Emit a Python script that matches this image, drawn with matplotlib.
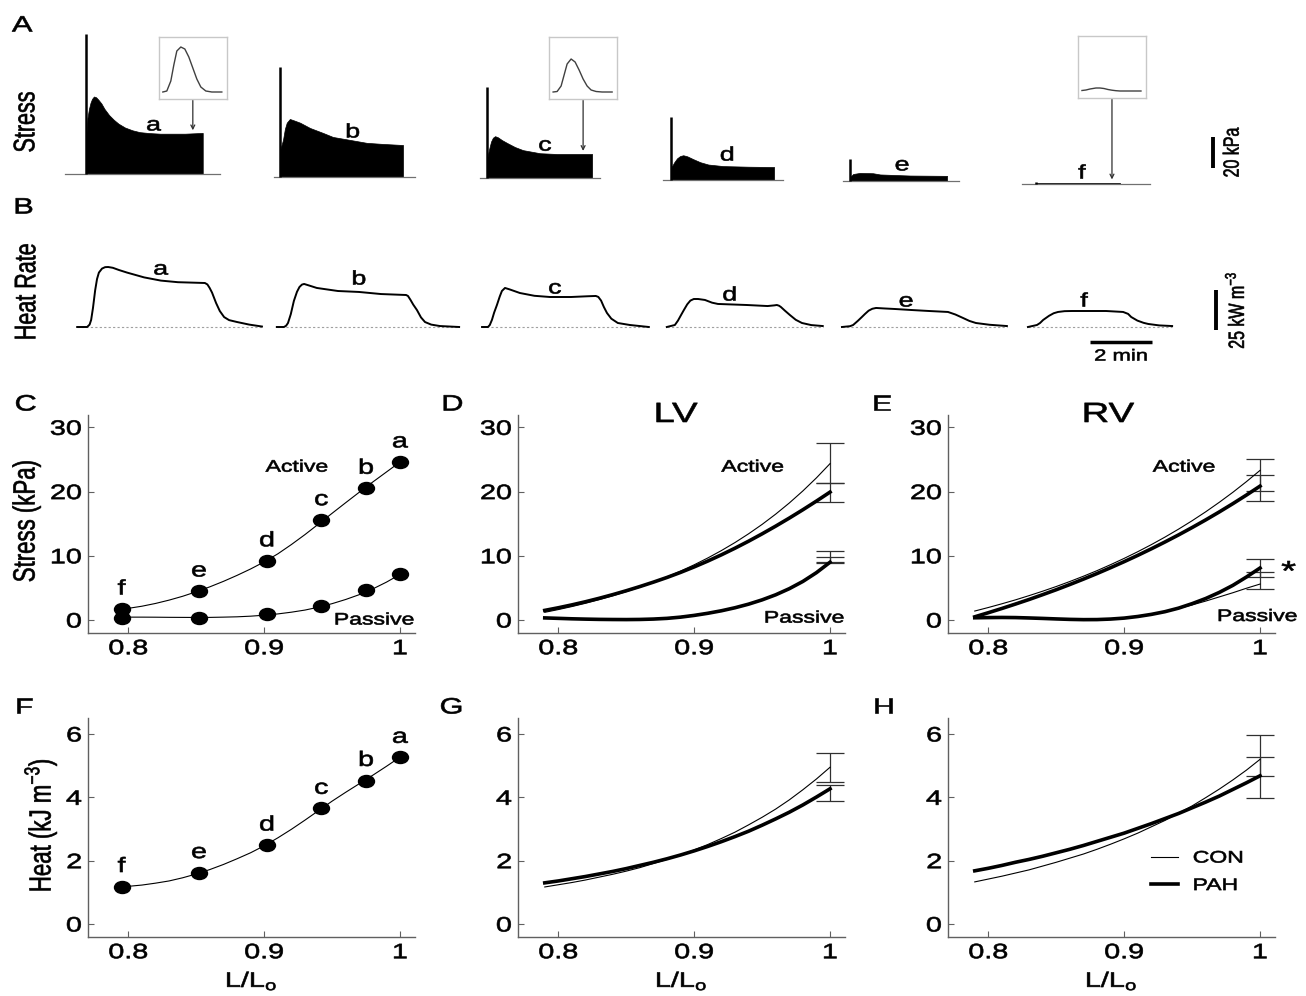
import numpy as np
import matplotlib
matplotlib.use('Agg')
import matplotlib.pyplot as plt
from matplotlib.patheffects import AbstractPathEffect
from matplotlib.transforms import Affine2D
from matplotlib.path import Path

plt.rcParams['font.family'] = ['Liberation Sans', 'DejaVu Sans']
plt.rcParams['mathtext.fontset'] = 'custom'
plt.rcParams['mathtext.rm'] = 'Liberation Sans'
plt.rcParams['mathtext.it'] = 'Liberation Sans:italic'
plt.rcParams['mathtext.bf'] = 'Liberation Sans:bold'

# ---------------------------------------------------------------- data
trace_names = ['a', 'b', 'c', 'd', 'e', 'f']

# A: stress traces (time from stimulation onset, min ; stress, kPa)
stress_t_a = [0.0, 0.05, 0.10, 0.15, 0.20, 0.26, 0.33, 0.40, 0.50, 0.60, 0.75, 0.90, 1.05, 1.26, 1.50, 1.74, 2.05, 2.40, 3.20, 3.77]
stress_a = [20, 36, 42, 46, 48.5, 50, 49.5, 48, 45.5, 42, 38, 35, 32.5, 30, 28.2, 27, 26.4, 26, 26, 26.5]
stress_t_b = [0.0, 0.10, 0.16, 0.22, 0.32, 0.45, 0.65, 0.97, 1.39, 1.71, 2.26, 2.80, 3.32, 3.97]
stress_b = [17, 24, 31, 35, 37.4, 36.5, 35, 31.6, 28.4, 25.8, 23.9, 22, 21.3, 20.6]
stress_t_c = [0.0, 0.06, 0.13, 0.19, 0.26, 0.35, 0.48, 0.65, 0.90, 1.16, 1.71, 2.26, 3.39]
stress_c = [12, 18, 23.5, 26, 27, 26.3, 24.5, 22.6, 20, 18, 16, 15.5, 15.5]
stress_t_d = [0.0, 0.10, 0.19, 0.29, 0.39, 0.52, 0.71, 0.94, 1.20, 1.68, 2.50, 3.32]
stress_d = [8, 11.5, 14, 15.5, 16, 15.3, 13.5, 11.5, 10, 9, 8.6, 8.4]
stress_t_e = [0.0, 0.10, 0.32, 0.74, 0.97, 1.94, 3.13]
stress_e = [2.5, 4.5, 5.2, 5.0, 4.2, 3.5, 3.3]
stress_t_f = [0.0, 2.71]
stress_f = [1.0, 1.0]
spike_kpa = [90, 71, 59, 40.6, 14, 1.5]

# A insets: single twitch (ms ; relative stress)
twitch_ms = [0, 40, 80, 110, 140, 180, 220, 260, 300, 340, 380, 430, 490, 590]
twitch_a = [0, 1, 11, 27, 41, 45, 43, 35, 24, 13, 5, 1, 0, 0]
twitch_c = [0, 0.5, 6, 17, 28, 33, 30, 22, 13, 6, 2, 0.5, 0, 0]
twitch_f = [0.5, 1, 2, 2.5, 3, 3, 2.5, 1.5, 0.8, 0.3, 0, 0, 0, 0]

# B: heat-rate traces (min ; kW m-3)
heat_t_a = [-0.35, -0.03, 0.05, 0.10, 0.16, 0.23, 0.29, 0.35, 0.45, 0.55, 0.65, 0.80, 1.00, 1.26, 1.81, 2.35, 2.90, 3.77,
            3.85, 3.92, 4.00, 4.13, 4.25, 4.39, 4.55, 4.81, 5.20, 5.61]
heat_a = [0, 0, 1.5, 4.4, 12, 23, 30, 34, 36.5, 37.4, 37.5, 37, 35.6, 34, 31, 29, 28, 27.5,
          26.6, 24.5, 21.5, 15, 10, 6.2, 4.3, 3.1, 1.5, 0.3]
heat_t_b = [-0.23, 0.0, 0.07, 0.13, 0.22, 0.32, 0.42, 0.50, 0.58, 0.65, 0.80, 1.06, 1.74, 2.42, 3.13, 3.94, 4.00,
            4.08, 4.17, 4.29, 4.42, 4.55, 4.75, 5.03, 5.65]
heat_b = [0, 0, 0.8, 2.5, 8, 16.3, 22, 25, 26.5, 26.9, 26, 24.4, 22.5, 21.9, 20.6, 20, 19.4,
          17, 14, 10.6, 6, 3.1, 1.5, 0.6, 0]
heat_t_c = [-0.19, 0.0, 0.06, 0.13, 0.20, 0.29, 0.38, 0.45, 0.55, 0.70, 1.03, 1.50, 2.00, 2.68, 3.20, 3.48, 3.56,
            3.65, 3.74, 3.84, 3.98, 4.19, 4.58, 5.19]
heat_c = [0, 0, 1.25, 4.5, 9, 13.75, 19, 22.5, 24.4, 23.5, 21.25, 19.5, 18.75, 18.75, 19.2, 19.4, 18.8,
          16.5, 12.5, 8.75, 5.2, 2.5, 1.25, 0]
heat_t_d = [-0.26, 0.0, 0.10, 0.20, 0.29, 0.40, 0.50, 0.61, 0.75, 0.97, 1.20, 1.39, 2.32, 2.99, 3.20, 3.29, 3.36,
            3.42, 3.55, 3.71, 3.90, 4.10, 4.40, 4.77]
heat_d = [0, 1.25, 4, 7.5, 10.6, 14.2, 16.5, 17.5, 17.5, 16.9, 15.2, 14.4, 13.75, 13.1, 13.5, 13.75, 13.3,
          12.5, 10.2, 7.5, 4.5, 2.5, 1.2, 0.6]
heat_t_e = [-0.26, 0.0, 0.10, 0.25, 0.38, 0.48, 0.60, 0.72, 0.84, 1.10, 1.45, 2.00, 2.55, 3.16, 3.40, 3.65, 3.85,
            4.06, 4.50, 5.06]
heat_e = [0, 0.5, 1.25, 3.8, 6.2, 8.1, 10.2, 11.4, 11.9, 11.6, 11.25, 10.6, 10, 9.4, 7.8, 5.6, 3.8,
          2.5, 1.4, 0.6]
heat_t_f = [-0.23, 0.06, 0.16, 0.26, 0.45, 0.60, 0.74, 0.95, 1.19, 2.29, 2.84, 3.00, 3.10, 3.30, 3.50, 3.65, 4.00, 4.42]
heat_f = [0, 1.25, 2.5, 4.4, 7, 8.6, 9.4, 9.9, 10, 10, 9.4, 8.2, 6.25, 4, 2.6, 1.9, 1, 0.6]

stress_scale_kpa = 20
heat_scale = 25
time_scale_min = 2

# C / F: example preparation
point_L = [0.795, 0.852, 0.902, 0.942, 0.975, 1.0]
point_names = ['f', 'e', 'd', 'c', 'b', 'a']
C_active = [1.7, 4.5, 9.2, 15.6, 20.5, 24.6]
C_passive = [0.26, 0.36, 1.0, 2.2, 4.7, 7.2]
F_heat = [1.18, 1.62, 2.49, 3.65, 4.53, 5.26]

fit_L = [0.795, 0.80, 0.81, 0.82, 0.83, 0.84, 0.85, 0.86, 0.87, 0.88, 0.89,
         0.90, 0.91, 0.92, 0.93, 0.94, 0.95, 0.96, 0.97, 0.98, 0.99, 1.00]
C_active_fit = [1.70, 1.82, 2.15, 2.58, 3.10, 3.70, 4.40, 5.17, 6.02, 6.95, 7.95,
                9.05, 10.30, 11.75, 13.30, 14.95, 16.62, 18.27, 19.90, 21.50, 23.05, 24.60]
C_passive_fit = [0.45, 0.45, 0.45, 0.44, 0.42, 0.41, 0.40, 0.41, 0.45, 0.50, 0.60,
                 0.75, 0.95, 1.22, 1.55, 2.00, 2.55, 3.20, 3.95, 4.85, 5.90, 7.10]
F_heat_fit = [1.18, 1.19, 1.23, 1.29, 1.36, 1.46, 1.58, 1.72, 1.88, 2.06, 2.25,
              2.47, 2.72, 2.99, 3.28, 3.58, 3.88, 4.16, 4.43, 4.70, 4.98, 5.27]

# D, E, G, H: group mean curves (CON thin, PAH thick)
grp_L = [0.79, 0.80, 0.81, 0.82, 0.83, 0.84, 0.85, 0.86, 0.87, 0.88, 0.89,
         0.90, 0.91, 0.92, 0.93, 0.94, 0.95, 0.96, 0.97, 0.98, 0.99, 1.00]
D_act_CON = [1.20, 1.63, 2.10, 2.61, 3.17, 3.77, 4.42, 5.12, 5.89, 6.72, 7.62,
             8.60, 9.66, 10.81, 12.06, 13.42, 14.89, 16.49, 18.22, 20.10, 22.14, 24.35]
D_act_PAH = [1.50, 1.91, 2.36, 2.85, 3.38, 3.95, 4.56, 5.21, 5.90, 6.63, 7.42,
             8.27, 9.18, 10.15, 11.18, 12.27, 13.42, 14.62, 15.87, 17.17, 18.52, 19.92]
D_pas_CON = [0.38, 0.30, 0.23, 0.18, 0.14, 0.12, 0.12, 0.15, 0.22, 0.34, 0.54,
             0.80, 1.12, 1.50, 1.96, 2.51, 3.17, 3.96, 4.90, 6.03, 7.39, 9.02]
D_pas_PAH = [0.33, 0.26, 0.19, 0.14, 0.10, 0.08, 0.07, 0.09, 0.15, 0.26, 0.45,
             0.72, 1.05, 1.44, 1.91, 2.47, 3.14, 3.93, 4.88, 6.01, 7.38, 9.00]
E_act_CON = [1.40, 1.95, 2.53, 3.14, 3.80, 4.49, 5.22, 6.00, 6.82, 7.69, 8.62,
             9.60, 10.64, 11.74, 12.91, 14.15, 15.46, 16.85, 18.33, 19.89, 21.55, 23.30]
E_act_PAH = [0.50, 1.14, 1.80, 2.49, 3.20, 3.95, 4.72, 5.53, 6.37, 7.24, 8.15,
             9.09, 10.07, 11.09, 12.15, 13.25, 14.40, 15.59, 16.83, 18.12, 19.46, 20.85]
E_pas_CON = [0.30, 0.33, 0.35, 0.34, 0.30, 0.24, 0.17, 0.12, 0.10, 0.12, 0.20,
             0.35, 0.58, 0.90, 1.30, 1.80, 2.35, 2.95, 3.60, 4.25, 4.95, 5.60]
E_pas_PAH = [0.35, 0.38, 0.40, 0.38, 0.32, 0.25, 0.17, 0.10, 0.06, 0.07, 0.15,
             0.30, 0.55, 0.88, 1.30, 1.85, 2.55, 3.35, 4.30, 5.40, 6.70, 8.10]
G_CON = [1.17, 1.24, 1.31, 1.39, 1.48, 1.57, 1.67, 1.78, 1.91, 2.04, 2.18,
         2.34, 2.51, 2.70, 2.90, 3.13, 3.37, 3.63, 3.92, 4.24, 4.58, 4.95]
G_PAH = [1.30, 1.36, 1.43, 1.50, 1.58, 1.66, 1.75, 1.85, 1.95, 2.06, 2.18,
         2.31, 2.45, 2.60, 2.76, 2.93, 3.12, 3.32, 3.53, 3.76, 4.01, 4.27]
H_CON = [1.33, 1.42, 1.51, 1.61, 1.71, 1.83, 1.95, 2.08, 2.21, 2.36, 2.52,
         2.69, 2.87, 3.07, 3.27, 3.50, 3.73, 3.99, 4.26, 4.55, 4.86, 5.20]
H_PAH = [1.68, 1.76, 1.85, 1.95, 2.04, 2.14, 2.25, 2.36, 2.48, 2.61, 2.74,
         2.87, 3.02, 3.17, 3.33, 3.49, 3.67, 3.85, 4.04, 4.25, 4.46, 4.68]

# error bars at L/Lo = 1 (low, high)
D_act_err = {'CON': (21.4, 27.6), 'PAH': (18.3, 21.3)}
D_pas_err = {'CON': (9.0, 10.8), 'PAH': (8.9, 9.8)}
E_act_err = {'CON': (20.1, 25.0), 'PAH': (18.5, 22.6)}
E_pas_err = {'CON': (4.9, 7.5), 'PAH': (6.7, 9.5)}
G_err = {'CON': (4.47, 5.41), 'PAH': (3.9, 4.38)}
H_err = {'CON': (4.68, 5.97), 'PAH': (3.99, 5.26)}

stress_ticks = [0, 10, 20, 30]
heat_ticks = [0, 2, 4, 6]
L_ticks = [0.8, 0.9, 1.0]
L_ticklabels = ['0.8', '0.9', '1']

# ---------------------------------------------------------------- helpers
W, H = 1306, 996
SX = 1.38


class XStretch(AbstractPathEffect):
    """Widen glyphs horizontally (the reference figure is horizontally stretched)."""

    def __init__(self, sx=SX, anchor='center', lw=0.45):
        super().__init__()
        self.sx = sx
        self.anchor = anchor
        self.lw = lw

    def draw_path(self, renderer, gc, tpath, affine, rgbFace=None):
        if len(tpath.vertices) == 0:
            return
        ext = affine.transform_path(tpath).get_extents()
        if self.anchor == 'left':
            x0 = ext.x0
        elif self.anchor == 'right':
            x0 = ext.x1
        else:
            x0 = 0.5 * (ext.x0 + ext.x1)
        tr = affine + Affine2D().translate(-x0, 0).scale(self.sx, 1.0).translate(x0, 0)
        gc0 = renderer.new_gc()
        gc0.copy_properties(gc)
        if rgbFace is not None:
            gc0.set_foreground(rgbFace)
        gc0.set_linewidth(self.lw)
        renderer.draw_path(gc0, tpath, tr, rgbFace)
        gc0.restore()


def st(t, anchor='center'):
    t.set_path_effects([XStretch(anchor=anchor)])
    return t


fig = plt.figure(figsize=(W / 100, H / 100), dpi=100)


def px_ax(l, t, r, b):
    return fig.add_axes([l / W, 1 - b / H, (r - l) / W, (b - t) / H])


def ftext(x, y, s, anchor='center', **kw):
    t = fig.text(x / W, 1 - y / H, s, ha=anchor, **kw)
    return st(t, anchor)


# ---------------------------------------------------------------- row A
PX_MIN = 31.0
PX_KPA = 1.55
axA = px_ax(0, 20, W, 200)
axA.set_xlim(0, W / PX_MIN)
axA.set_ylim(-(200 - 174) / PX_KPA, (174 - 20) / PX_KPA)
axA.axis('off')

stress_t = [stress_t_a, stress_t_b, stress_t_c, stress_t_d, stress_t_e, stress_t_f]
stress_v = [stress_a, stress_b, stress_c, stress_d, stress_e, stress_f]
stress_x0 = [2.77, 9.03, 15.71, 21.65, 27.42, 33.42]
stress_base = [0, -1.9, -2.6, -3.9, -4.5, -6.5]
base_pre = [0.68, 0.2, 0.23, 0.26, 0.23, 0.45]
base_post = [0.55, 0.4, 0.26, 0.29, 0.39, 0.97]
lblA_t = [2.19, 2.35, 1.87, 1.81, 1.68, 1.48]
lblA_y = [31, 28.4, 20.6, 15.5, 9.7, 6.5]

for i, nm in enumerate(trace_names):
    x0, b0 = stress_x0[i], stress_base[i]
    t = np.array(stress_t[i]) + x0
    v = np.array(stress_v[i]) + b0
    axA.plot([x0 - base_pre[i], t[-1] + base_post[i]], [b0, b0], color='#707070', lw=0.9)
    axA.fill_between(t, b0, v, facecolor='k', edgecolor='k', lw=0.5)
    axA.plot([x0, x0], [b0, b0 + spike_kpa[i]], color='k', lw=1.8, solid_capstyle='butt')
    st(axA.text(x0 + lblA_t[i], b0 + lblA_y[i], nm, ha='center', va='center', fontsize=14))

# insets
inset_idx = [0, 2, 5]
inset_data = [twitch_a, twitch_c, twitch_f]
arrow_t = [3.45, 3.10, 2.45]
inset_top = [37, 37, 36]
for k, i in enumerate(inset_idx):
    x0, b0 = stress_x0[i], stress_base[i]
    tx = x0 + arrow_t[k]
    ty = b0 + np.interp(arrow_t[k], stress_t[i], stress_v[i]) + 2.0
    cx = tx * PX_MIN
    axi = px_ax(cx - 34, inset_top[k], cx + 34, inset_top[k] + 62)
    axi.plot(twitch_ms, inset_data[k], color='#404040', lw=1.0)
    axi.set_xlim(-40, 640)
    axi.set_ylim(-7, 55)
    axi.set_xticks([])
    axi.set_yticks([])
    for s in axi.spines.values():
        s.set_color('#c8c8c8')
        s.set_linewidth(1.0)
    axA.annotate('', xy=(tx, ty), xytext=(0.5, 0.0), textcoords=axi.transAxes,
                 arrowprops=dict(arrowstyle='->', lw=0.9, color='#303030',
                                 shrinkA=1, shrinkB=0, mutation_scale=7))

# stress scale bar
sb_x = 1213 / PX_MIN
sb_y0 = (174 - 168) / PX_KPA
axA.plot([sb_x, sb_x], [sb_y0, sb_y0 + stress_scale_kpa], color='k', lw=2.8, solid_capstyle='butt')
st(axA.text(1232 / PX_MIN, sb_y0 + stress_scale_kpa / 2, f'{stress_scale_kpa} kPa', rotation=90,
            ha='center', va='center', fontsize=11.5))

# ---------------------------------------------------------------- row B
PX_Q = 1.6
axB = px_ax(0, 230, W, 370)
axB.set_xlim(0, W / PX_MIN)
axB.set_ylim(-(370 - 327) / PX_Q, (327 - 230) / PX_Q)
axB.axis('off')

heat_t = [heat_t_a, heat_t_b, heat_t_c, heat_t_d, heat_t_e, heat_t_f]
heat_v = [heat_a, heat_b, heat_c, heat_d, heat_e, heat_f]
heat_x0 = [2.84, 9.16, 15.74, 21.77, 27.42, 33.39]
lblB_t = [2.35, 2.42, 2.16, 1.77, 1.81, 1.58]
lblB_y = [35.6, 29.4, 23.75, 19.4, 15.6, 15.6]
for i, nm in enumerate(trace_names):
    t = np.array(heat_t[i]) + heat_x0[i]
    axB.plot([t[0], t[-1]], [0, 0], color='#a0a0a0', lw=0.8, ls=(0, (2, 2)))
    axB.plot(t, heat_v[i], color='k', lw=1.4, solid_joinstyle='round')
    st(axB.text(heat_x0[i] + lblB_t[i], lblB_y[i], nm, ha='center', va='center', fontsize=14))

hb_x = 1216 / PX_MIN
hb_y0 = (327 - 330) / PX_Q
axB.plot([hb_x, hb_x], [hb_y0, hb_y0 + heat_scale], color='k', lw=2.8, solid_capstyle='butt')
st(axB.text(1235 / PX_MIN, hb_y0 + heat_scale / 2, f'{heat_scale} kW m$^{{-3}}$', rotation=90,
            ha='center', va='center', fontsize=11.5))
tb_x0 = 1090 / PX_MIN
tb_y = (327 - 342.5) / PX_Q
axB.plot([tb_x0, tb_x0 + time_scale_min], [tb_y, tb_y], color='k', lw=2.5, solid_capstyle='butt')
st(axB.text(tb_x0 + time_scale_min / 2, (327 - 356) / PX_Q, f'{time_scale_min} min',
            ha='center', va='center', fontsize=11.5))

# ---------------------------------------------------------------- panels C-H
XLIM = (0.7703, 1.011)
SLIM = (-2.02, 31.92)
HLIM = (-0.41, 6.505)
ell = Path(Path.unit_circle().vertices * np.array([1.33, 1.0]), Path.unit_circle().codes)
THIN, THICK = 0.8, 2.6


def style(ax, yticks, ylim):
    ax.set_xlim(*XLIM)
    ax.set_ylim(*ylim)
    ax.spines['top'].set_visible(False)
    ax.spines['right'].set_visible(False)
    for s in ('left', 'bottom'):
        ax.spines[s].set_color('#606060')
        ax.spines[s].set_linewidth(1.0)
    ax.set_xticks(L_ticks)
    xl = ax.set_xticklabels(L_ticklabels)
    ax.set_yticks(yticks)
    yl = ax.set_yticklabels([str(v) for v in yticks])
    ax.tick_params(direction='in', length=4, width=0.8, color='#606060', labelsize=15)
    ax.tick_params(axis='x', pad=4.5)
    ax.tick_params(axis='y', pad=4.5)
    for t in xl:
        st(t, 'center')
    for t in yl:
        st(t, 'right')


def errbars(ax, errs):
    for key in ('CON', 'PAH'):
        lo, hi = errs[key]
        mid = 0.5 * (lo + hi)
        ax.errorbar([1.0], [mid], yerr=[[mid - lo], [hi - mid]], fmt='none', ecolor='#303030',
                    elinewidth=0.9, capsize=10, capthick=0.9, clip_on=False, zorder=1)


axC = px_ax(88, 415, 415, 633)
axD = px_ax(518, 415, 845, 633)
axE = px_ax(948, 415, 1275, 633)
axF = px_ax(88, 718, 415, 937)
axG = px_ax(518, 718, 845, 937)
axH = px_ax(948, 718, 1275, 937)

for ax in (axC, axD, axE):
    style(ax, stress_ticks, SLIM)
for ax in (axF, axG, axH):
    style(ax, heat_ticks, HLIM)

# C
axC.plot(fit_L, C_active_fit, color='k', lw=THIN)
axC.plot(fit_L, C_passive_fit, color='k', lw=THIN)
axC.plot(point_L, C_active, ls='none', marker=ell, ms=11.5, color='k')
axC.plot(point_L, C_passive, ls='none', marker=ell, ms=11.5, color='k')
for x, y, nm in zip(point_L, C_active, point_names):
    st(axC.annotate(nm, (x, y), xytext=(0, 14.5), textcoords='offset points',
                    ha='center', va='center', fontsize=15))
st(axC.text(0.924, 23.8, 'Active', ha='center', va='center', fontsize=12))
st(axC.text(0.981, 0.0, 'Passive', ha='center', va='center', fontsize=12))
axC.set_ylabel('Stress (kPa)', fontsize=16, va='center')
axC.yaxis.set_label_coords(-0.187, 0.514)
st(axC.yaxis.label)

# D
axD.plot(grp_L, D_act_CON, color='k', lw=THIN)
axD.plot(grp_L, D_act_PAH, color='k', lw=THICK)
axD.plot(grp_L, D_pas_CON, color='k', lw=THIN)
axD.plot(grp_L, D_pas_PAH, color='k', lw=THICK)
errbars(axD, D_act_err)
errbars(axD, D_pas_err)
st(axD.text(0.943, 23.8, 'Active', ha='center', va='center', fontsize=12))
st(axD.text(0.981, 0.3, 'Passive', ha='center', va='center', fontsize=12))
st(axD.text(0.483, 1.0, 'LV', transform=axD.transAxes, ha='center', va='center', fontsize=20))

# E
axE.plot(grp_L, E_act_CON, color='k', lw=THIN)
axE.plot(grp_L, E_act_PAH, color='k', lw=THICK)
axE.plot(grp_L, E_pas_CON, color='k', lw=THIN)
axE.plot(grp_L, E_pas_PAH, color='k', lw=THICK)
errbars(axE, E_act_err)
errbars(axE, E_pas_err)
st(axE.text(0.944, 23.8, 'Active', ha='center', va='center', fontsize=12))
st(axE.text(0.998, 0.55, 'Passive', ha='center', va='center', fontsize=12, clip_on=False))
st(axE.text(0.49, 1.0, 'RV', transform=axE.transAxes, ha='center', va='center', fontsize=20))
st(axE.text(1.021, 7.3, '*', ha='center', va='center', fontsize=20, clip_on=False))

# F
axF.plot(fit_L, F_heat_fit, color='k', lw=THIN)
axF.plot(point_L, F_heat, ls='none', marker=ell, ms=11.5, color='k')
for x, y, nm in zip(point_L, F_heat, point_names):
    st(axF.annotate(nm, (x, y), xytext=(0, 14.5), textcoords='offset points',
                    ha='center', va='center', fontsize=15))
axF.set_ylabel('Heat (kJ m$^{-3}$)', fontsize=16, va='center')
axF.yaxis.set_label_coords(-0.144, 0.511)
st(axF.yaxis.label)

# G
axG.plot(grp_L, G_CON, color='k', lw=THIN)
axG.plot(grp_L, G_PAH, color='k', lw=THICK)
errbars(axG, G_err)

# H
lc, = axH.plot(grp_L, H_CON, color='k', lw=THIN)
lp, = axH.plot(grp_L, H_PAH, color='k', lw=THICK)
errbars(axH, H_err)
leg = axH.legend([lc, lp], ['CON', 'PAH'], loc='upper left', bbox_to_anchor=(0.92, 2.32),
                 bbox_transform=axH.transData, frameon=False, fontsize=12, handlelength=1.6,
                 handletextpad=0.9, labelspacing=0.75, borderpad=0, borderaxespad=0)
for t in leg.get_texts():
    st(t, 'left')

for ax in (axF, axG, axH):
    ax.set_xlabel(r'L/L$_{\mathrm{o}}$', fontsize=15, va='baseline')
    ax.xaxis.set_label_coords(0.5, -0.228)
    st(ax.xaxis.label)

# ---------------------------------------------------------------- figure labels
ftext(26, 122, 'Stress', rotation=90, va='center', fontsize=15.5)
ftext(27, 292, 'Heat Rate', rotation=90, va='center', fontsize=15.5)
for s, x, y in [('A', 12, 26), ('B', 14, 208), ('C', 15, 405), ('D', 442, 405), ('E', 872, 405),
                ('F', 15, 708), ('G', 440, 708), ('H', 873, 708)]:
    ftext(x, y, s, anchor='left', va='center', fontsize=16)

fig.savefig('out.png', dpi=100)
